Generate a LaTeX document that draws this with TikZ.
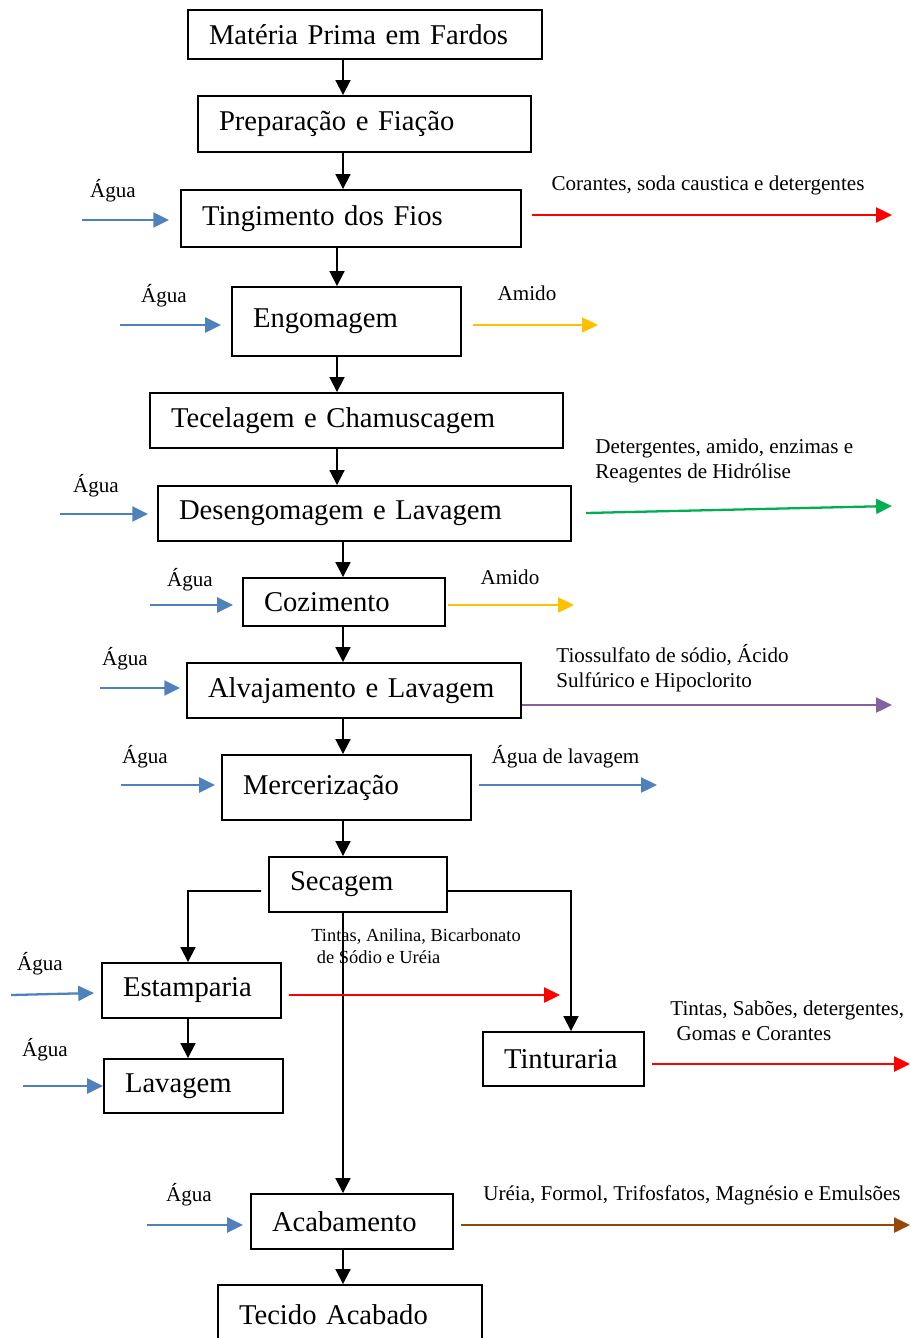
\documentclass[tikz,border=0pt]{standalone}
\usepackage{fontspec}
\setmainfont{Liberation Serif}
\usetikzlibrary{calc,arrows.meta}
\definecolor{agua}{RGB}{79,129,189}
\definecolor{corante}{RGB}{255,0,0}
\definecolor{amido}{RGB}{255,192,0}
\definecolor{enzima}{RGB}{0,176,80}
\definecolor{cloro}{RGB}{128,100,162}
\definecolor{acabam}{RGB}{152,72,6}
\tikzset{
  etapa/.style={draw, line width=1.1pt, align=left, inner xsep=0.42cm, inner ysep=0pt,
    font=\fontsize{16.3}{20}\selectfont},
  rotulo/.style={inner sep=0pt, align=left, font=\fontsize{12}{14.2}\selectfont},
  fluxo/.style={line width=1.1pt, -{Triangle[length=8.5pt,width=8.5pt]}},
  saida/.style={#1, line width=1.3pt, -{Triangle[length=9pt,width=8.5pt]}},
}

\begin{document}
\begin{tikzpicture}[x=0.02cm,y=-0.02cm]
    \useasboundingbox (0,0) rectangle (911,1338);
    % etapas do processo
    \node[etapa, text width=6.24cm, minimum height=0.98cm] (mat) at (365,34.5) {Matéria~Prima~em~Fardos};
    \node[etapa, text width=5.82cm, minimum height=1.12cm] (prep) at (364.5,124) {Preparação~e~Fiação};
    \node[etapa, text width=5.96cm, minimum height=1.14cm] (ting) at (351,218.5) {Tingimento~dos~Fios};
    \node[etapa, text width=3.74cm, minimum height=1.38cm] (engo) at (346.5,321.5) {Engomagem};
    \node[etapa, text width=7.42cm, minimum height=1.10cm] (tece) at (356.5,420.5) {Tecelagem~e~Chamuscagem};
    \node[etapa, text width=7.42cm, minimum height=1.10cm] (dese) at (364.5,513.5) {Desengomagem~e~Lavagem};
    \node[etapa, text width=3.20cm, minimum height=0.96cm] (cozi) at (344,602) {Cozimento};
    \node[etapa, text width=5.84cm, minimum height=1.10cm] (alva) at (354,690.5) {Alvajamento~e~Lavagem};
    \node[etapa, text width=4.14cm, minimum height=1.30cm] (merc) at (346.5,787.5) {Mercerização};
    \node[etapa, text width=2.72cm, minimum height=1.10cm] (seca) at (358,884.5) {Secagem};
    \node[etapa, text width=2.74cm, minimum height=1.10cm] (esta) at (191.5,990.5) {Estamparia};
    \node[etapa, text width=2.74cm, minimum height=1.08cm] (lava) at (193.5,1086) {Lavagem};
    \node[etapa, text width=2.38cm, minimum height=1.08cm] (tint) at (563.5,1059) {Tinturaria};
    \node[etapa, text width=3.20cm, minimum height=1.10cm] (acab) at (352,1221.5) {Acabamento};
    \node[etapa, text width=4.44cm, minimum height=1.20cm] (teci) at (350,1315) {Tecido~Acabado};

    % linha principal
    \coordinate (eixo) at (343,0);
    \coordinate (eixob) at (337,0);
    \draw[fluxo] (mat.south -| eixo) -- (prep.north -| eixo);
    \draw[fluxo] (prep.south -| eixo) -- (ting.north -| eixo);
    \draw[fluxo] (ting.south -| eixob) -- (engo.north -| eixob);
    \draw[fluxo] (engo.south -| eixob) -- (tece.north -| eixob);
    \draw[fluxo] (tece.south -| eixob) -- (dese.north -| eixob);
    \draw[fluxo] (dese.south -| eixo) -- (cozi.north -| eixo);
    \draw[fluxo] (cozi.south -| eixo) -- (alva.north -| eixo);
    \draw[fluxo] (alva.south -| eixo) -- (merc.north -| eixo);
    \draw[fluxo] (merc.south -| eixo) -- (seca.north -| eixo);
    \draw[fluxo] (seca.south -| eixo) -- (acab.north -| eixo);
    \draw[fluxo] (acab.south -| eixo) -- (teci.north -| eixo);
    % ramais da secagem
    \coordinate (ramE) at (188,891);
    \coordinate (ramD) at (571,891);
    \draw[fluxo] ($(seca.west)+(-7,6.5)$) -- (ramE) -- (ramE |- esta.north);
    \draw[fluxo] (ramE |- esta.south) -- (ramE |- lava.north);
    \draw[fluxo] ($(seca.east)+(0,6.5)$) -- (ramD) -- (ramD |- tint.north);

    % entradas de agua
    \draw[saida=agua] ($(ting.west)+(-98,1.5)$) -- ($(ting.west)+(-11,1.5)$);
    \draw[saida=agua] ($(engo.west)+(-111,3.5)$) -- ($(engo.west)+(-10,3.5)$);
    \draw[saida=agua] ($(dese.west)+(-97,0.5)$) -- ($(dese.west)+(-9,0.5)$);
    \draw[saida=agua] ($(cozi.west)+(-92,3)$) -- ($(cozi.west)+(-9,3)$);
    \draw[saida=agua] ($(alva.west)+(-86,-2.5)$) -- ($(alva.west)+(-6,-2.5)$);
    \draw[saida=agua] ($(merc.west)+(-100,-2.5)$) -- ($(merc.west)+(-6,-2.5)$);
    \draw[saida=agua] ($(esta.west)+(-90,4.5)$) -- ($(esta.west)+(-7,2.5)$);
    \draw[saida=agua] ($(lava.west)+(-80,0)$) -- (lava.west);
    \draw[saida=agua] ($(acab.west)+(-103,3.5)$) -- ($(acab.west)+(-7,3.5)$);
    \foreach \pos in {(113,191),(164,296),(96,486),(190,580),(125,659),(145,757),(40,964),(45,1050),(189,1195)}
      \node[rotulo] at \pos {Água};

    % efluentes
    \draw[saida=corante] ($(ting.east)+(10,-3.5)$) -- ($(ting.east)+(370,-3.5)$);
    \draw[saida=amido] ($(engo.east)+(11,3.5)$) -- ($(engo.east)+(136,3.5)$);
    \draw[saida=enzima] ($(dese.east)+(14,-0.5)$) -- ($(dese.east)+(320,-7.5)$);
    \draw[saida=amido] ($(cozi.east)+(2,3)$) -- ($(cozi.east)+(128,3)$);
    \draw[saida=cloro] ($(alva.east)+(0,14.5)$) -- ($(alva.east)+(370,14.5)$);
    \draw[saida=agua] ($(merc.east)+(7,-2.5)$) -- ($(merc.east)+(185,-2.5)$);
    \draw[saida=corante] ($(esta.east)+(7,4.5)$) -- ($(esta.east)+(278,4.5)$);
    \draw[saida=corante] ($(tint.east)+(7,5)$) -- ($(tint.east)+(265,5)$);
    \draw[saida=acabam] ($(acab.east)+(7,3.5)$) -- ($(acab.east)+(456,3.5)$);

    \node[rotulo] (l1) at (708,185) {Corantes, soda caustica e detergentes};
    \node[rotulo] (l2) at (527,293) {Amido};
    \node[rotulo, anchor=west] (l3) at (595,460.5) {Detergentes, amido, enzimas e\\Reagentes de Hidrólise};
    \node[rotulo] (l4) at (510,577) {Amido};
    \node[rotulo, anchor=west] (l5) at (556,668) {Tiossulfato de sódio, Ácido\\Sulfúrico e Hipoclorito};
    \node[rotulo] (l6) at (565.5,757) {Água de lavagem};
    \node[rotulo, anchor=west, font=\fontsize{10.5}{12.5}\selectfont] (l7) at (311,946) {Tintas, Anilina, Bicarbonato\\\hspace*{0.3em}de Sódio e Uréia};
    \node[rotulo, anchor=west] (l8) at (670,1020.5) {Tintas, Sabões, detergentes,\\\hspace*{0.3em}Gomas e Corantes};
    \node[rotulo] (l9) at (692,1195) {Uréia, Formol, Trifosfatos, Magnésio e Emulsões};
\end{tikzpicture}
\end{document}
